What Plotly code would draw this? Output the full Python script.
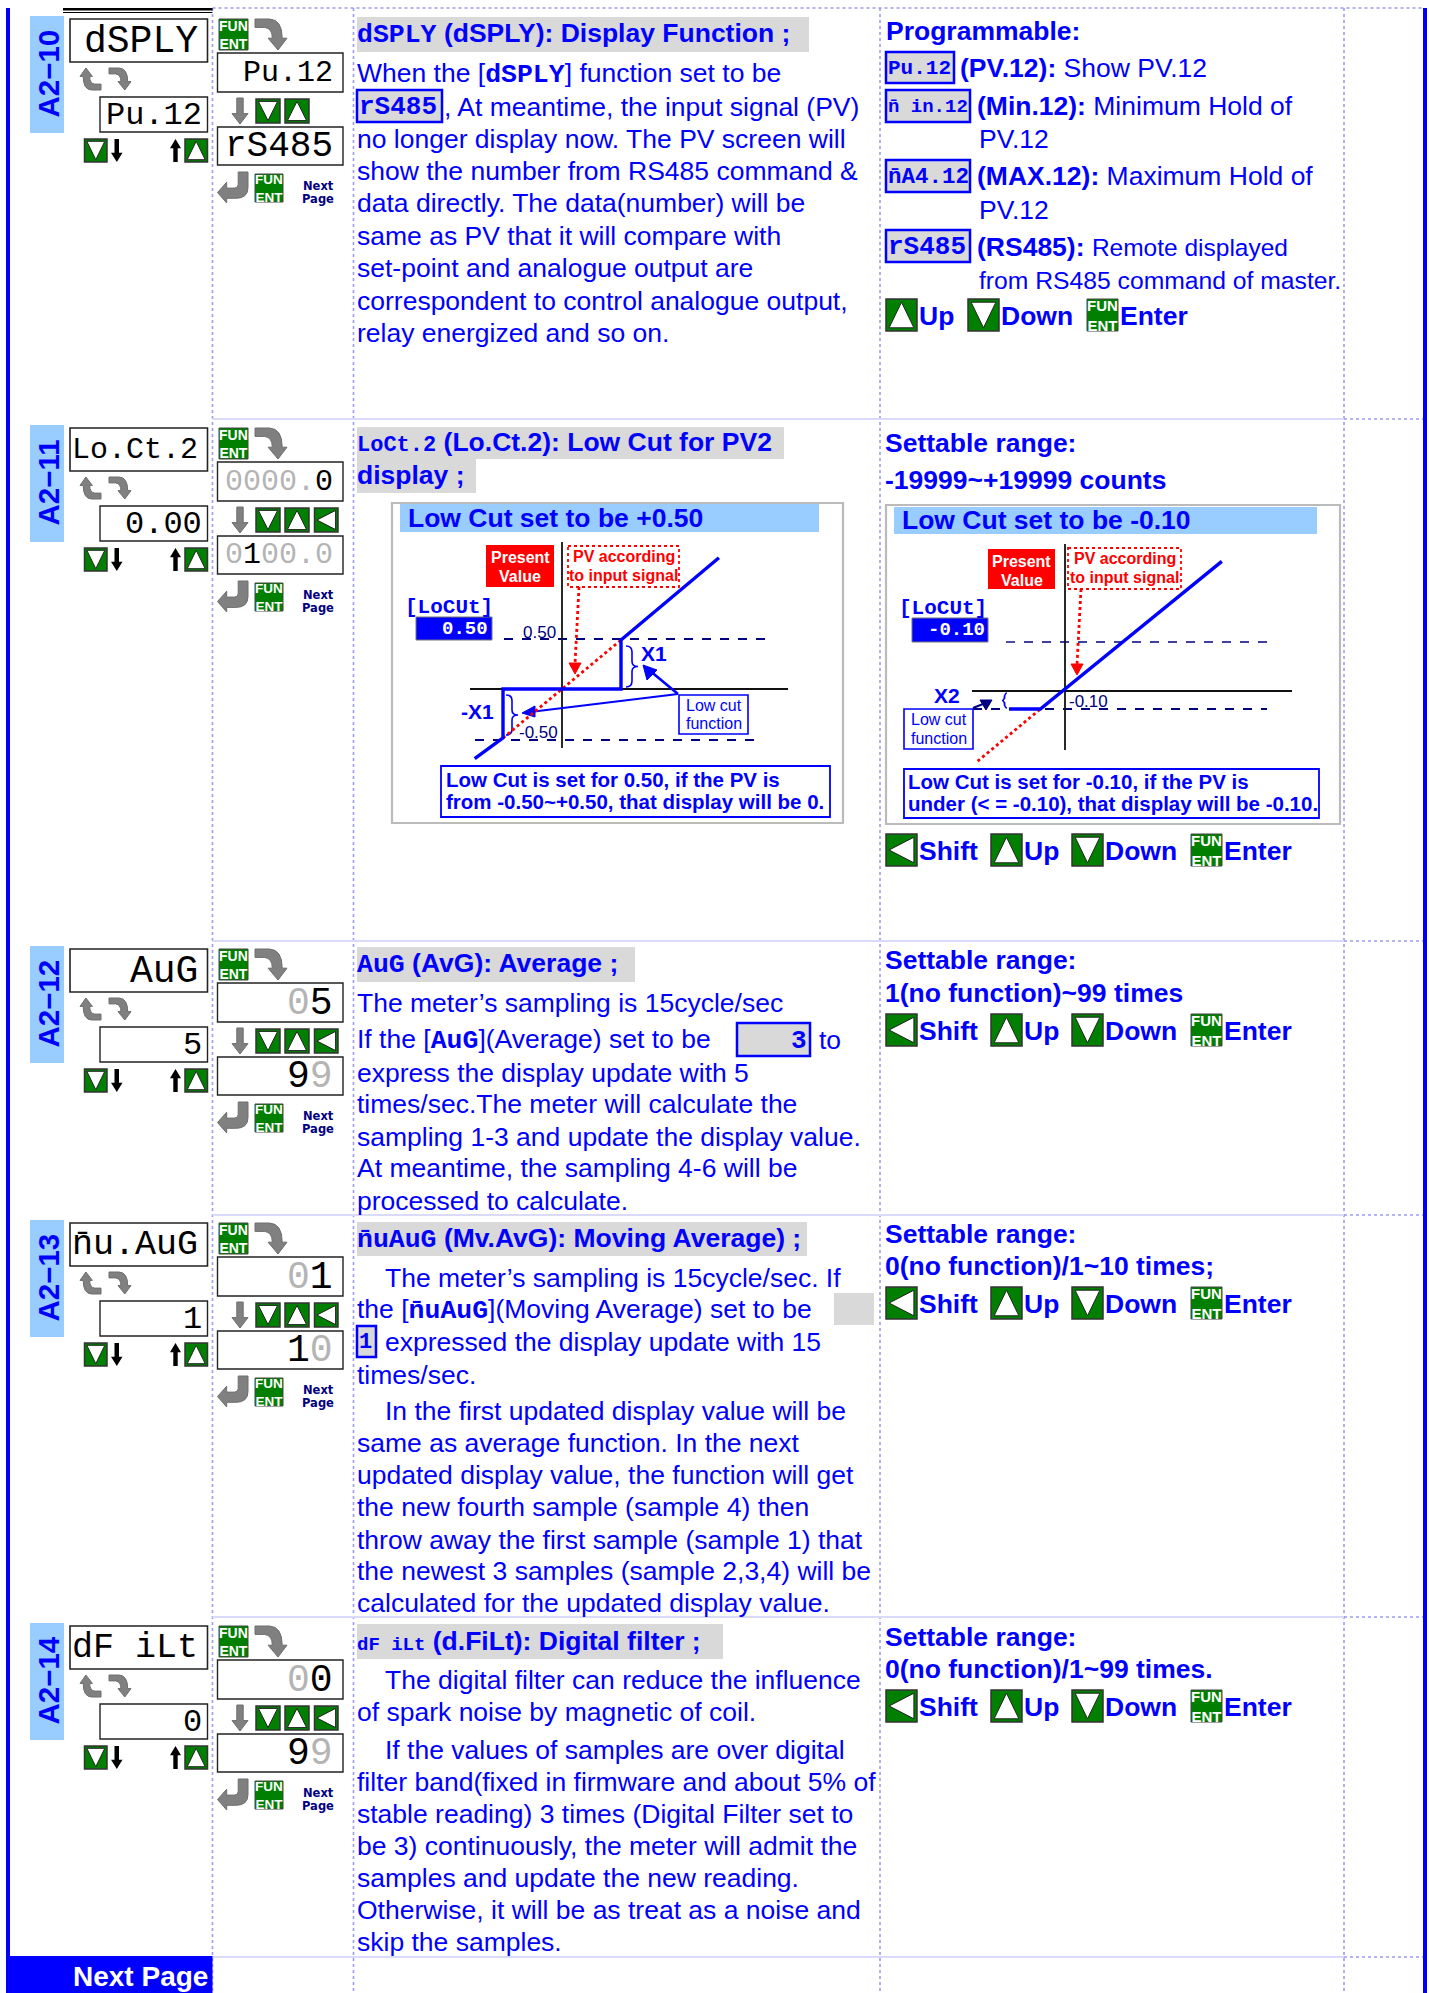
import plotly.graph_objects as go

# ---------- content ----------
def G(s):
    return f'<span style="color:#B4B4B4">{s}</span>'

row_ids = ["A2\u221210", "A2\u221211", "A2\u221212", "A2\u221213", "A2\u221214"]
display_name = ["dSPLY", "Lo.Ct.2", "AuG", "n\u0304u.AuG", "dF iLt"]
display_value = ["Pu.12", "0.00", "5", "1", "0"]
display_first = ["Pu.12", G("0000.") + "0", G("0") + "5", G("0") + "1", G("0") + "0"]
display_last = ["rS485", G("0") + "1" + G("00.0"), "9" + G("9"), "1" + G("0"), "9" + G("9")]
has_shift = [False, True, True, True, True]

def LED(s, size=None):
    st = "font-family:Liberation Mono"
    if size:
        st += f";font-size:{size}px"
    return f'<span style="{st}"><b>{s}</b></span>'

titles = [
    [LED("dSPLY") + " <b>(dSPLY): Display Function ;</b>"],
    [LED("LoCt.2", 22) + " <b>(Lo.Ct.2): Low Cut for PV2</b>", "<b>display ;</b>"],
    [LED("AuG") + " <b>(AvG): Average ;</b>"],
    [LED("n\u0304uAuG") + " <b>(Mv.AvG): Moving Average) ;</b>"],
    [LED("dF iLt", 19) + " <b>(d.FiLt): Digital filter ;</b>"],
]

body_a210 = [
    "When the [" + LED("dSPLY") + "] function set to be",
    ", At meantime, the input signal (PV)",
    "no longer display now. The PV screen will",
    "show the number from RS485 command &amp;",
    "data directly. The data(number) will be",
    "same as PV that it will compare with",
    "set-point and analogue output are",
    "correspondent to control analogue output,",
    "relay energized and so on.",
]
body_a212 = [
    "The meter\u2019s sampling is 15cycle/sec",
    "If the [" + LED("AuG") + "](Average) set to be",
    "express the display update with 5",
    "times/sec.The meter will calculate the",
    "sampling 1-3 and update the display value.",
    "At meantime, the sampling 4-6 will be",
    "processed to calculate.",
]
body_a213 = [
    "The meter\u2019s sampling is 15cycle/sec. If",
    "the [" + LED("n\u0304uAuG") + "](Moving Average) set to be",
    "expressed the display update with 15",
    "times/sec.",
    "In the first updated display value will be",
    "same as average function. In the next",
    "updated display value, the function will get",
    "the new fourth sample (sample 4) then",
    "throw away the first sample (sample 1) that",
    "the newest 3 samples (sample 2,3,4) will be",
    "calculated for the updated display value.",
]
body_a214 = [
    "The digital filter can reduce the influence",
    "of spark noise by magnetic of coil.",
    "If the values of samples are over digital",
    "filter band(fixed in firmware and about 5% of",
    "stable reading) 3 times (Digital Filter set to",
    "be 3) continuously, the meter will admit the",
    "samples and update the new reading.",
    "Otherwise, it will be as treat as a noise and",
    "skip the samples.",
]
range_a212 = ["Settable range:", "1(no function)~99 times"]
range_a213 = ["Settable range:", "0(no function)/1~10 times;"]
range_a214 = ["Settable range:", "0(no function)/1~99 times."]
range_a211 = ["Settable range:", "-19999~+19999 counts"]

# low-cut transfer curves (PV in, display out)
cut_pos_pv = [-0.74, -0.50, -0.50, 0.50, 0.50, 1.33]
cut_pos_disp = [-0.71, -0.50, 0.0, 0.0, 0.50, 1.34]
raw_pos_pv = [-0.50, 0.50]
raw_pos_disp = [-0.50, 0.50]
cut_neg_pv = [-0.25, -0.11, 0.70]
cut_neg_disp = [-0.10, -0.10, 0.72]
raw_neg_pv = [-0.39, -0.11]
raw_neg_disp = [-0.39, -0.10]

# ---------- palette ----------
BLUE = "#0000FF"
NAVY = "#000080"
SKY = "#99CCFF"
GREY = "#D9D9D9"
GREEN = "#007F00"
ARROW = "#808080"
RED = "#FF0000"
GRID = "#9C9CF2"

shapes, notes = [], []

def rect(x0, y0, x1, y1, fill=None, line=None, w=1, dash=None):
    ln = dict(width=w if line else 0)
    if line:
        ln["color"] = line
    if dash:
        ln["dash"] = dash
    s = dict(type="rect", xref="x", yref="y", x0=x0, y0=y0, x1=x1, y1=y1, line=ln, layer="below")
    if fill:
        s["fillcolor"] = fill
    shapes.append(s)

def hline(x0, y0, x1, y1, color, w=1, dash=None):
    ln = dict(color=color, width=w)
    if dash:
        ln["dash"] = dash
    shapes.append(dict(type="line", xref="x", yref="y", x0=x0, y0=y0, x1=x1, y1=y1, line=ln, layer="below"))

def path(d, fill=None, line=None, w=1):
    ln = dict(width=w if line else 0)
    if line:
        ln["color"] = line
    s = dict(type="path", xref="x", yref="y", path=d, line=ln, layer="below")
    if fill:
        s["fillcolor"] = fill
    shapes.append(s)

def text(x, y, t, size=26.5, color=BLUE, anchor="left", bold=False, family="Liberation Sans", angle=0):
    if bold:
        t = f"<b>{t}</b>"
    notes.append(dict(xref="x", yref="y", x=x, y=y, text=t, showarrow=False, xanchor=anchor,
                      yanchor="middle", align=anchor if anchor != "center" else "center",
                      borderpad=0, textangle=angle,
                      font=dict(family=family, size=size, color=color)))

def unit_path(cmds, x0, y0, x1, y1, flipx=False, flipy=False):
    out = []
    def P(u, v):
        if flipx:
            u = 1 - u
        if flipy:
            v = 1 - v
        return f"{x0 + (x1 - x0) * u:.1f},{y0 + (y1 - y0) * v:.1f}"
    for c in cmds:
        if c[0] == "Q":
            out.append(f"Q{P(c[1], c[2])} {P(c[3], c[4])}")
        elif c[0] == "Z":
            out.append("Z")
        else:
            out.append(f"{c[0]}{P(c[1], c[2])}")
    return " ".join(out)

CURVE = [("M", 0, 0), ("L", .45, 0), ("Q", .85, .02, .85, .62), ("L", 1, .62), ("L", .72, 1), ("L", .41, .62),
         ("L", .54, .62), ("Q", .54, .3, .3, .27), ("L", 0, .27), ("Z",)]
RETURN = [("M", .68, 0), ("L", 1, 0), ("L", 1, .5), ("Q", 1, .85, .6, .85), ("L", .3, .85), ("L", .3, 1),
          ("L", 0, .66), ("L", .3, .33), ("L", .3, .52), ("L", .55, .52), ("Q", .68, .52, .68, .4), ("Z",)]
STRAIGHT = [("M", .3, 0), ("L", .7, 0), ("L", .7, .6), ("L", 1, .6), ("L", .5, 1), ("L", 0, .6), ("L", .3, .6), ("Z",)]

def button(x0, y0, x1, y1, kind):
    rect(x0, y0, x1, y1, fill=GREEN, line="#333333", w=1.5)
    w, h = x1 - x0, y1 - y0
    m = 0.1
    if kind == "down":
        pts = [(x0 + w * m, y0 + h * m), (x1 - w * m, y0 + h * m), (x0 + w / 2, y1 - h * m)]
    elif kind == "up":
        pts = [(x0 + w * m, y1 - h * m), (x1 - w * m, y1 - h * m), (x0 + w / 2, y0 + h * m)]
    else:
        pts = [(x1 - w * m, y0 + h * m), (x1 - w * m, y1 - h * m), (x0 + w * m, y0 + h / 2)]
    d = "M" + " L".join(f"{a:.1f},{b:.1f}" for a, b in pts) + " Z"
    path(d, fill="white", line="#222222", w=1)

def fun(x0, y0, x1, y1, size=14):
    rect(x0, y0, x1, y1, fill=GREEN, line="#444444", w=1)
    text((x0 + x1) / 2, (y0 + y1) / 2, "FUN<br>ENT", size=size, color="white", anchor="center", bold=True)

def chip(x0, y0, x1, y1, t, size=26, anchor="left"):
    rect(x0, y0, x1, y1, fill=GREY, line=BLUE, w=2.5)
    if anchor == "left":
        text(x0 + 1, (y0 + y1) / 2 + 1, t, size=size, bold=True, family="Liberation Mono")
    else:
        text(x1 - 2, (y0 + y1) / 2 + 1, t, size=size, anchor="right", bold=True, family="Liberation Mono")

def keys(y0, entries):
    h = 32
    for x0, kind, label in entries:
        x1 = x0 + 31
        if kind == "fun":
            fun(x0, y0, x1, y0 + h, 15)
        else:
            button(x0, y0, x1, y0 + h, kind)
        text(x1 + 1, y0 + h / 2 + 1, label, bold=True, size=26.5)

# ---------- frame ----------
rect(6, 8, 10, 1993, fill=BLUE)
rect(1423, 8, 1427, 1993, fill=BLUE)
for xc in [212.5, 353.5, 880, 1344]:
    hline(xc, 8, xc, 1993, GRID, 1.6, "dot")
hline(212.5, 8, 1423, 8, GRID, 1.4, "dot")
for yr in [419, 941, 1215, 1617, 1957]:
    hline(212.5, yr, 1344, yr, "#DADAFB", 2)
    hline(1344, yr, 1423, yr, GRID, 1.4, "dot")
rect(63, 8, 212.5, 10.5, fill="black")
rect(63, 12, 212.5, 13, fill="black")
rect(6, 1956, 212.5, 1993, fill=BLUE)
text(209, 1976, "Next Page", size=28, color="white", anchor="right", bold=True)

# ---------- left column control blocks ----------
tops = [16, 425, 946, 1220, 1623]
first_size = [30, 30, 38, 38, 38]
last_size = [36, 30, 38, 38, 38]
for i, b in enumerate(tops):
    rect(30, b, 64, b + 117, fill=SKY)
    text(47.5, b + 58, row_ids[i], size=29.5, anchor="center", bold=True, angle=-90)

    rect(70, b + 3, 207.5, b + 46, fill="white", line="#222222", w=1.6)
    n = len(display_name[i].replace("\u0304", ""))
    text(199, b + 25, display_name[i], size=min(38, 126 / n / 0.6), color="black", anchor="right",
         family="Liberation Mono")
    path(unit_path(CURVE, 80, b + 52, 101, b + 74, flipx=True, flipy=True), fill=ARROW, line="#6E6E6E")
    path(unit_path(CURVE, 109, b + 52, 131, b + 74), fill=ARROW, line="#6E6E6E")

    rect(100, b + 81, 207.5, b + 116, fill="white", line="#222222", w=1.4)
    text(203, b + 99, display_value[i], size=32, color="black", anchor="right", family="Liberation Mono")

    button(84.5, b + 123, 107, b + 146, "down")
    path(unit_path(STRAIGHT, 111, b + 123, 122.5, b + 146), fill="black")
    path(unit_path(STRAIGHT, 170, b + 123, 181, b + 146, flipy=True), fill="black")
    button(185, b + 123, 207.5, b + 146, "up")

    fun(219, b + 3, 248, b + 34)
    path(unit_path(CURVE, 255, b + 3, 287, b + 34), fill=ARROW, line="#6E6E6E")

    rect(217.5, b + 37, 343, b + 76, fill="white", line="#222222", w=1.4)
    text(334, b + 57, display_first[i], size=first_size[i], color="black", anchor="right", family="Liberation Mono")

    path(unit_path(STRAIGHT, 232, b + 82, 248, b + 108), fill=ARROW, line="#6E6E6E")
    button(256, b + 83, 280, b + 107, "down")
    button(285, b + 83, 309, b + 107, "up")
    if has_shift[i]:
        button(314.5, b + 83, 338, b + 107, "left")

    rect(217.5, b + 111, 343, b + 149, fill="white", line="#222222", w=1.4)
    text(334, b + 130, display_last[i], size=last_size[i], color="black", anchor="right", family="Liberation Mono")

    path(unit_path(RETURN, 217.5, b + 156, 248, b + 187), fill=ARROW, line="#6E6E6E")
    fun(255, b + 158, 283, b + 186, 13.5)
    text(318, b + 170, "<b>Next</b>", size=11.5, color=NAVY, anchor="center", family="DejaVu Sans")
    text(318, b + 183, "<b>Page</b>", size=11.5, color=NAVY, anchor="center", family="DejaVu Sans")

# ---------- A2-10 description ----------
rect(357, 17, 809, 52, fill=GREY)
text(356, 34, titles[0][0])
y10 = [74, 107, 139, 171, 203, 236, 268, 301, 333]
for k, (yy, t) in enumerate(zip(y10, body_a210)):
    text(443 if k == 1 else 356, yy, t)
chip(357, 90, 442, 122, "rS485")

text(885, 31, "Programmable:", bold=True)
chip(886, 52, 954, 83, "Pu.12", 21)
text(959, 68, "<b>(PV.12):</b> Show PV.12")
chip(886, 90, 970, 122, "n\u0304 in.12", 19)
text(976, 106, "<b>(Min.12):</b> Minimum Hold of")
text(978, 139, "PV.12")
chip(886, 160, 970, 192, "n\u0304A4.12", 22.5)
text(976, 176, "<b>(MAX.12):</b> Maximum Hold of")
text(978, 210, "PV.12")
chip(886, 230, 970, 262, "rS485", 26)
text(976, 247, '<b>(RS485):</b> <span style="font-size:24.5px">Remote displayed</span>')
text(978, 280, "from RS485 command of master.", size=24.7)
keys(299, [(886, "up", "Up"), (968, "down", "Down"), (1087, "fun", "Enter")])

# ---------- A2-11 description ----------
rect(357, 427, 784, 459, fill=GREY)
rect(357, 459, 476, 493, fill=GREY)
text(356, 442, titles[1][0])
text(356, 475, titles[1][1])
text(884, 443, range_a211[0], bold=True)
text(884, 480, range_a211[1], bold=True)
keys(834, [(886, "left", "Shift"), (991, "up", "Up"), (1072, "down", "Down"), (1191, "fun", "Enter")])

def brace(x0, x1, y0, y1, color=BLUE):
    xm, ym = (x0 + x1) / 2, (y0 + y1) / 2
    path(f"M{x0},{y0} Q{xm},{y0} {xm},{y0 + 6} L{xm},{ym - 5} Q{xm},{ym} {x1},{ym} "
         f"Q{xm},{ym} {xm},{ym + 5} L{xm},{y1 - 6} Q{xm},{y1} {x0},{y1}", line=color, w=1.6)

def tri(a, b, c, color):
    path(f"M{a[0]},{a[1]} L{b[0]},{b[1]} L{c[0]},{c[1]} Z", fill=color, line=color)

def panel(px0, py0, px1, py1, hx0, hy0, hx1, hy1, title, tx, ty):
    rect(px0, py0, px1, py1, fill="white", line="#BBBBBB", w=2.2)
    rect(hx0, hy0, hx1, hy1, fill=SKY)
    text(tx, ty, title, bold=True)

def labels(pvx0, pvy0, pvx1, pvy1, rx0, ry0, rx1, ry1):
    rect(pvx0, pvy0, pvx1, pvy1, fill=RED)
    xc = (pvx0 + pvx1) / 2
    text(xc, pvy0 + 12, "Present", size=16, color="white", anchor="center", bold=True)
    text(xc, pvy0 + 31, "Value", size=16, color="white", anchor="center", bold=True)
    rect(rx0, ry0, rx1, ry1, line=RED, w=1.8, dash="dot")
    xc = (rx0 + rx1) / 2
    text(xc, ry0 + 10, "PV according", size=16, color=RED, anchor="center", bold=True)
    text(xc, ry0 + 29, "to input signal", size=16, color=RED, anchor="center", bold=True)

# left diagram
panel(392, 503, 843, 823, 400, 504, 819, 532, "Low Cut set to be +0.50", 407, 518)
labels(486, 545, 554, 587, 568, 546, 679, 587)
text(404, 607, "[LoCUt]", size=21, bold=True, family="Liberation Mono")
rect(416, 617, 492, 640, fill=BLUE, line="#777777", w=1)
text(489, 629, "0.50", size=19, color="white", anchor="right", bold=True, family="Liberation Mono")
hline(504, 639, 772, 639, NAVY, 2, "dash")
hline(475, 740, 763, 740, NAVY, 2, "dash")
hline(562, 542, 562, 748, "#111111", 1.8)
hline(470, 689, 788, 689, "#111111", 1.8)
text(539, 632, "0.50", size=17, color=NAVY, anchor="center")
text(538, 732, "-0.50", size=17, color=NAVY, anchor="center")
hline(579, 587, 575, 664, RED, 2.8, "dot")
tri((569, 663), (581, 663), (575, 674), RED)
brace(626, 638, 646, 687)
brace(506, 518, 695, 735)
text(640, 653, "X1", size=21, bold=True)
text(477, 711, "-X1", size=21, anchor="center", bold=True)
rect(679, 695, 748, 734, fill="white", line=BLUE, w=1.6)
text(713.5, 705, "Low cut", size=16, anchor="center", color=BLUE, bold=False)
text(713.5, 723, "function", size=16, anchor="center", color=BLUE, bold=False)
hline(678, 694, 649, 670, BLUE, 2.6)
tri((643, 665), (657, 670), (647, 680), BLUE)
hline(678, 694, 530, 712, BLUE, 2.2)
tri((522, 713), (535, 706), (535, 717), BLUE)
rect(441, 766, 830, 817, fill="white", line=BLUE, w=1.8)
text(445, 779, "Low Cut is set for 0.50, if the PV is", size=20.5, bold=True)
text(445, 801, "from -0.50~+0.50, that display will be 0.", size=20.5, bold=True)

# right diagram
panel(886, 505, 1340, 824, 894, 507, 1317, 534, "Low Cut set to be -0.10", 901, 520)
labels(988, 549, 1055, 589, 1068, 548, 1181, 589)
text(898, 608, "[LoCUt]", size=21, bold=True, family="Liberation Mono")
rect(912, 618, 988, 642, fill=BLUE, line="#777777", w=1)
text(986, 630, "-0.10", size=19, color="white", anchor="right", bold=True, family="Liberation Mono")
hline(1006, 642, 1276, 642, NAVY, 1.4, "dash")
hline(973, 709, 1267, 709, NAVY, 2, "dash")
hline(1065, 544, 1065, 750, "#111111", 1.8)
hline(972, 691, 1292, 691, "#111111", 1.8)
text(1088, 701, "-0.10", size=17, color=NAVY, anchor="center")
hline(1081, 589, 1077, 665, RED, 2.8, "dot")
tri((1071, 664), (1083, 664), (1077, 675), RED)
text(947, 695, "X2", size=21, color=BLUE, anchor="center", bold=True)
brace(1007, 1002, 693, 708)
hline(973, 708, 988, 702, NAVY, 2)
tri((992, 700), (980, 700), (986, 710), NAVY)
rect(904, 709, 973, 749, fill="white", line=BLUE, w=1.6)
text(938.5, 719, "Low cut", size=16, anchor="center")
text(938.5, 738, "function", size=16, anchor="center")
rect(904, 769, 1319, 818, fill="white", line=BLUE, w=1.8)
text(907, 781, "Low Cut is set for -0.10, if the PV is", size=20.5, bold=True)
text(907, 803, "under (&lt; = -0.10), that display will be -0.10.", size=20.5, bold=True)

# ---------- A2-12 ----------
rect(357, 947, 635, 982, fill=GREY)
text(356, 964, titles[2][0])
y12 = [1003, 1040, 1073, 1104, 1137, 1168, 1201]
for yy, t in zip(y12, body_a212):
    text(356, yy, t)
chip(737, 1023, 810, 1056, "3", anchor="right")
text(818, 1040, "to")
text(884, 960, range_a212[0], bold=True)
text(884, 993, range_a212[1], bold=True)
keys(1014, [(886, "left", "Shift"), (991, "up", "Up"), (1072, "down", "Down"), (1191, "fun", "Enter")])

# ---------- A2-13 ----------
rect(357, 1222, 807, 1256, fill=GREY)
text(356, 1239, titles[3][0])
y13 = [1278, 1310, 1342, 1375, 1411, 1443, 1475, 1507, 1540, 1571, 1603]
x13 = [384, 356, 384, 356, 384, 356, 356, 356, 356, 356, 356]
for xx, yy, t in zip(x13, y13, body_a213):
    text(xx, yy, t)
rect(834, 1293, 874, 1325, fill=GREY)
chip(357, 1326, 376, 1357, "1", size=22)
text(884, 1234, range_a213[0], bold=True)
text(884, 1266, range_a213[1], bold=True)
keys(1287, [(886, "left", "Shift"), (991, "up", "Up"), (1072, "down", "Down"), (1191, "fun", "Enter")])

# ---------- A2-14 ----------
rect(357, 1624, 723, 1659, fill=GREY)
text(356, 1641, titles[4][0])
y14 = [1680, 1712, 1750, 1782, 1814, 1846, 1878, 1910, 1942]
x14 = [384, 356, 384, 356, 356, 356, 356, 356, 356]
for xx, yy, t in zip(x14, y14, body_a214):
    text(xx, yy, t)
text(884, 1637, range_a214[0], bold=True)
text(884, 1669, range_a214[1], bold=True)
keys(1690, [(886, "left", "Shift"), (991, "up", "Up"), (1072, "down", "Down"), (1191, "fun", "Enter")])

# ---------- figure ----------
W, H = 1429, 1993
fig = go.Figure()

def sub(px0, px1, py_top, py_bot):
    return dict(domain=[px0 / W, px1 / W], visible=False), dict(domain=[1 - py_bot / H, 1 - py_top / H], visible=False)

# axis windows: left diagram origin (562, 689), 118 px / 98 px per unit; right origin (1065, 691), 224 / 180 px per unit
ax2, ay2 = sub(400, 800, 542, 770)
ax2["range"] = [(400 - 562) / 118, (800 - 562) / 118]
ay2["range"] = [(689 - 770) / 98, (689 - 542) / 98]
ax3, ay3 = sub(960, 1300, 544, 770)
ax3["range"] = [(960 - 1065) / 224, (1300 - 1065) / 224]
ay3["range"] = [(691 - 770) / 180, (691 - 544) / 180]

fig.add_trace(go.Scatter(x=raw_pos_pv, y=raw_pos_disp, mode="lines", xaxis="x2", yaxis="y2",
                         line=dict(color=RED, width=2.8, dash="dot"), hoverinfo="skip"))
fig.add_trace(go.Scatter(x=cut_pos_pv, y=cut_pos_disp, mode="lines", xaxis="x2", yaxis="y2",
                         line=dict(color=BLUE, width=3.4), hoverinfo="skip"))
fig.add_trace(go.Scatter(x=raw_neg_pv, y=raw_neg_disp, mode="lines", xaxis="x3", yaxis="y3",
                         line=dict(color=RED, width=2.8, dash="dot"), hoverinfo="skip"))
fig.add_trace(go.Scatter(x=cut_neg_pv, y=cut_neg_disp, mode="lines", xaxis="x3", yaxis="y3",
                         line=dict(color=BLUE, width=3.4), hoverinfo="skip"))

fig.update_layout(
    width=W, height=H, margin=dict(l=0, r=0, t=0, b=0),
    paper_bgcolor="white", plot_bgcolor="rgba(0,0,0,0)", showlegend=False,
    font=dict(family="Liberation Sans", color=BLUE),
    xaxis=dict(range=[0, W], visible=False, domain=[0, 1]),
    yaxis=dict(range=[H, 0], visible=False, domain=[0, 1]),
    xaxis2=dict(anchor="y2", **ax2), yaxis2=dict(anchor="x2", **ay2),
    xaxis3=dict(anchor="y3", **ax3), yaxis3=dict(anchor="x3", **ay3),
    shapes=shapes, annotations=notes,
)
fig.write_html("out.html", config=dict(displayModeBar=False),
               post_script="document.body.style.margin='0';document.body.style.overflow='hidden';")
